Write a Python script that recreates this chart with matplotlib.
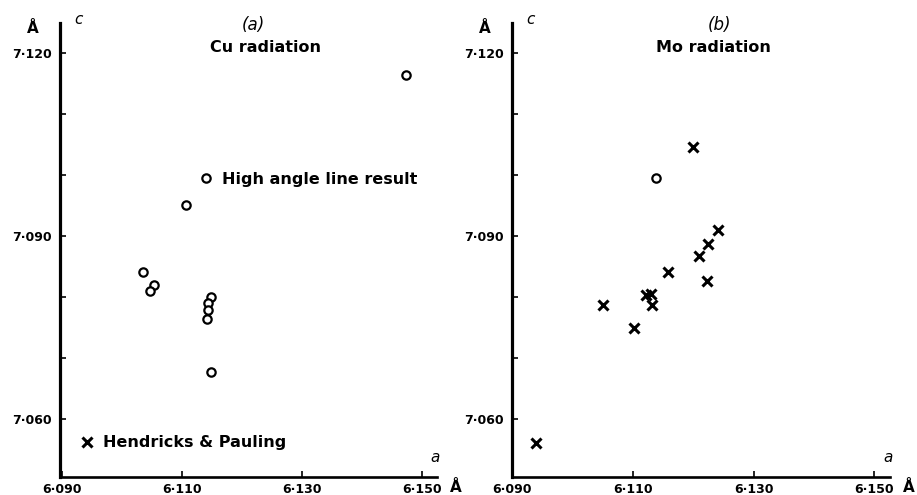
import matplotlib
matplotlib.use("Agg")
import matplotlib.pyplot as plt
from matplotlib.lines import Line2D
from matplotlib.ticker import FuncFormatter, MultipleLocator

# -------------------- data --------------------
# (a) Cu radiation, high angle line results
cu_a = [6.1473, 6.1107, 6.1035, 6.1053, 6.1047, 6.1149, 6.1143, 6.1143, 6.1142, 6.1148]
cu_c = [7.1164, 7.0952, 7.0841, 7.0820, 7.0810, 7.0800, 7.0790, 7.0779, 7.0764, 7.0677]

# (b) Mo radiation, high angle line result
mo_a = [6.1138]
mo_c = [7.0996]

# (b) Hendricks & Pauling
hp_a = [6.1200, 6.1241, 6.1224, 6.1210, 6.1158, 6.1223, 6.1122, 6.1130, 6.1132, 6.1051, 6.1102, 6.0940]
hp_c = [7.1047, 7.0910, 7.0887, 7.0867, 7.0841, 7.0826, 7.0803, 7.0806, 7.0787, 7.0787, 7.0750, 7.0561]

a_ticks = [6.090, 6.110, 6.130, 6.150]
c_ticks = [7.060, 7.090, 7.120]

FONT = "DejaVu Sans"
plt.rcParams["font.family"] = FONT


def dot_fmt(v, pos):
    return f"{v:.3f}".replace(".", "\u00b7")


def style_axes(ax, xlim):
    ax.set_xlim(*xlim)
    ax.set_ylim(7.0505, 7.125)
    for s in ("top", "right"):
        ax.spines[s].set_visible(False)
    ax.spines["left"].set_linewidth(2.3)
    ax.spines["bottom"].set_linewidth(1.9)
    ax.set_xticks(a_ticks)
    ax.set_yticks(c_ticks)
    ax.yaxis.set_minor_locator(MultipleLocator(0.010))
    ax.xaxis.set_major_formatter(FuncFormatter(dot_fmt))
    ax.yaxis.set_major_formatter(FuncFormatter(dot_fmt))
    ax.tick_params(axis="both", which="both", direction="in", length=4, width=1.2)
    ax.tick_params(axis="y", pad=6)
    ax.tick_params(axis="x", pad=4)
    for lab in ax.get_xticklabels() + ax.get_yticklabels():
        lab.set_fontweight("bold")
        lab.set_fontsize(9)
    # axis name letters and units
    ax.text(0.05, 1.007, "c", transform=ax.transAxes, fontsize=11, style="italic",
            ha="center", va="center")
    ax.text(-0.072, 0.988, "\u00c5", transform=ax.transAxes, fontsize=11, fontweight="bold",
            ha="center", va="center")
    ax.text(0.995, 0.044, "a", transform=ax.transAxes, fontsize=11, style="italic",
            ha="center", va="center")
    ax.text(1.05, -0.024, "\u00c5", transform=ax.transAxes, fontsize=11, fontweight="bold",
            ha="center", va="center", clip_on=False)


fig = plt.figure(figsize=(9.17, 4.95), dpi=100)
ax1 = fig.add_axes([60 / 917, 18 / 495, 377 / 917, 454 / 495])
ax2 = fig.add_axes([512 / 917, 18 / 495, 378 / 917, 454 / 495])

circle_kw = dict(linestyle="none", marker="o", markersize=6, markerfacecolor="white",
                 markeredgecolor="black", markeredgewidth=1.6)
cross_kw = dict(linestyle="none", marker="x", markersize=7.5, color="black", markeredgewidth=2.2)
leg_font = {"weight": "bold", "size": 11.5}

# -------------------- (a) Cu radiation --------------------
ax1.plot(cu_a, cu_c, **circle_kw)
style_axes(ax1, (6.0897, 6.1525))
ax1.text(0.512, 0.996, "(a)", transform=ax1.transAxes, fontsize=12, style="italic",
         ha="center", va="center")
ax1.text(0.544, 0.947, "Cu radiation", transform=ax1.transAxes, fontsize=11.5,
         fontweight="bold", ha="center", va="center")

leg1 = ax1.legend([Line2D([], [], **circle_kw)], ["High angle line result"],
                  loc="center left", bbox_to_anchor=(0.348, 0.656), frameon=False,
                  borderpad=0, handlelength=0.8, handletextpad=0.6, prop=leg_font)
ax1.add_artist(leg1)
ax1.legend([Line2D([], [], **cross_kw)], ["Hendricks & Pauling"],
           loc="center left", bbox_to_anchor=(0.034, 0.075), frameon=False,
           borderpad=0, handlelength=0.8, handletextpad=0.6, prop=leg_font)

# -------------------- (b) Mo radiation --------------------
ax2.plot(hp_a, hp_c, **cross_kw)
ax2.plot(mo_a, mo_c, **circle_kw)
style_axes(ax2, (6.0900, 6.1526))
ax2.text(0.55, 0.996, "(b)", transform=ax2.transAxes, fontsize=12, style="italic",
         ha="center", va="center")
ax2.text(0.532, 0.947, "Mo radiation", transform=ax2.transAxes, fontsize=11.5,
         fontweight="bold", ha="center", va="center")

fig.savefig("out.png", dpi=100)
